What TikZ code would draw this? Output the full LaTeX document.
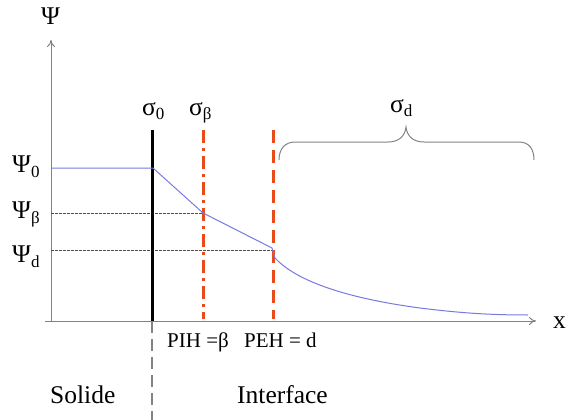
\documentclass[tikz,border=0pt]{standalone}
\usepackage{fontspec}
\setmainfont{Liberation Serif}
\usetikzlibrary{arrows.meta}
\newcommand{\mysub}[1]{\raisebox{-5pt}{\fontsize{17}{17}\selectfont #1}}
\definecolor{axisgray}{RGB}{130,130,130}
\definecolor{orangered}{RGB}{232,74,26}
\definecolor{curveblue}{RGB}{120,120,225}
\tikzset{
  axisline/.style={draw=axisgray, line width=1pt, -{To[length=7pt,width=8pt]}},
  biglabel/.style={inner sep=0pt, anchor=base west, font=\fontsize{25.5}{25.5}\selectfont},
  midlabel/.style={inner sep=0pt, anchor=base west, font=\fontsize{21}{21}\selectfont},
  orangeline/.style={draw=orangered, line width=3pt},
  guideline/.style={draw=black!70, line width=0.9pt, dash pattern=on 3pt off 1pt},
  curve/.style={draw=curveblue, line width=1pt},
}
\begin{document}
\begin{tikzpicture}[x=1pt,y=-1pt]
\useasboundingbox (0,0) rectangle (568,420);
% coordinates
\coordinate (O) at (51,321);
\coordinate (ytop) at (51,40);
\coordinate (xl) at (45,321);
\coordinate (xr) at (536,321);
\coordinate (s0top) at (152,130);
\coordinate (s0bot) at (152,321);
\coordinate (s0end) at (152,420);
\coordinate (sbtop) at (203,130);
\coordinate (sbbot) at (203,319);
\coordinate (sdtop) at (273,130);
\coordinate (sdbot) at (273,319);
\coordinate (gb0) at (51,213);
\coordinate (gb1) at (203,213);
\coordinate (gd0) at (51,250);
\coordinate (gd1) at (273,250);
% axes
\draw[axisline] (O) -- (ytop);
\draw[axisline] (xl) -- (xr);
% guide lines
\draw[guideline] (gb0) -- (gb1);
\draw[guideline] (gd0) -- (gd1);
% sigma_0 plane
\draw[line width=3pt, black] (s0top) -- (s0bot);
\draw[draw=axisgray, line width=2pt, dash pattern=on 12pt off 6pt] (s0bot) -- (s0end);
% orange planes
\draw[orangeline, dash pattern=on 13pt off 5pt on 3pt off 5pt] (sbtop) -- (sbbot);
\draw[orangeline, dash pattern=on 13pt off 7pt] (sdtop) -- (sdbot);
% potential curve
\draw[curve] (51,168) -- (153,168) -- (203,213) -- (272,248) -- (275,258)
  .. controls (300,285) and (360,300) .. (420,308)
  .. controls (460,313) and (490,315) .. (528,315);
% brace
\draw[draw=axisgray, line width=1pt] (279,160) .. controls (279,149) and (285,142) .. (295,142)
  -- (388,142) .. controls (399,142) and (405,136) .. (406,127)
  .. controls (407,136) and (413,142) .. (424,142)
  -- (519,142) .. controls (529,142) and (534,149) .. (534,160);
% labels
\node[biglabel] (psi) at (41,25) {Ψ};
\node[biglabel] (sig0) at (142,115) {σ\mysub{0}};
\node[biglabel] (sigb) at (189,115) {σ\mysub{β}};
\node[biglabel] (sigd) at (390,112) {σ\mysub{d}};
\node[biglabel] (psi0) at (12,172) {Ψ\mysub{0}};
\node[biglabel] (psib) at (12,218) {Ψ\mysub{β}};
\node[biglabel] (psid) at (12,262) {Ψ\mysub{d}};
\node[midlabel] (pih) at (167,347) {PIH =β};
\node[midlabel] (peh) at (244,347) {PEH = d};
\node[biglabel] (solide) at (50,403) {Solide};
\node[biglabel] (inter) at (237,403) {Interface};
\node[biglabel] (xlab) at (553,328) {x};
\end{tikzpicture}
\end{document}
